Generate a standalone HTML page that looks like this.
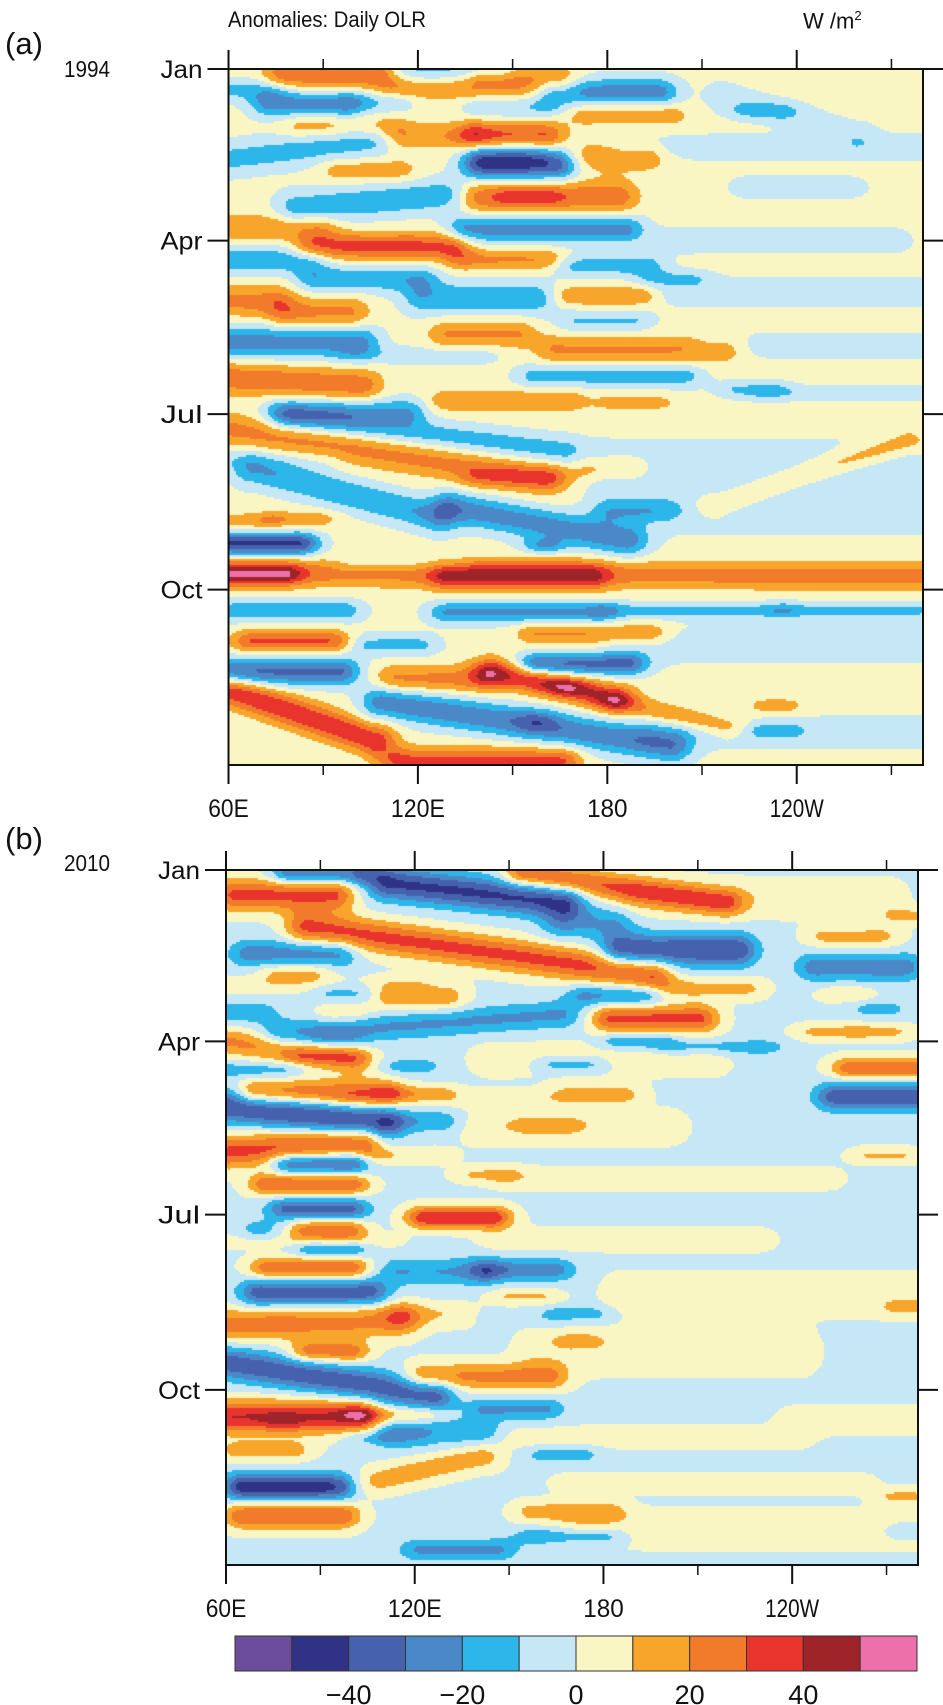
<!DOCTYPE html>
<html><head><meta charset="utf-8">
<style>
html,body{margin:0;padding:0;background:#fff;}
body{width:943px;height:1705px;position:relative;overflow:hidden;font-family:"Liberation Sans",sans-serif;color:#111;}
.t{position:absolute;white-space:nowrap;line-height:1;}
canvas{position:absolute;}
svg{position:absolute;left:0;top:0;}
</style></head>
<body>
<div class="t" style="left:228px;top:9px;font-size:22px;transform:scaleX(0.92);transform-origin:left;">Anomalies: Daily OLR</div>
<div class="t" style="left:803px;top:9px;font-size:22px;">W /m<sup style="font-size:13px">2</sup></div>
<div class="t" style="left:5px;top:28px;font-size:31px;">(a)</div>
<div class="t" style="left:64px;top:58px;font-size:23px;transform:scaleX(0.9);transform-origin:left;">1994</div>
<div class="t" style="left:5px;top:823px;font-size:31px;">(b)</div>
<div class="t" style="left:64px;top:852px;font-size:23px;transform:scaleX(0.9);transform-origin:left;">2010</div>
<canvas id="cA" width="695" height="696" style="left:228px;top:69px;"></canvas>
<canvas id="cB" width="692" height="695" style="left:226px;top:870px;"></canvas>
<svg id="ov" width="943" height="1705"></svg>
<script>
// ---- data ----
const levels = [-50,-40,-30,-20,-10,0,10,20,30,40,50];
const levelColors = ["#6b4c9d","#2f3285","#4662ae","#4b88c8","#2db6e9","#c6e7f6","#faf6c4","#f8a52b","#f17b2b","#e8342c","#9e2429","#ee70aa"];
const cbarLabels = [-40,-20,0,20,40];
const lonTickLabels = ["60E","120E","180","120W"];
const lonMajor = [60,120,180,240];
const lonMinor = [90,150,210,270];
const monthLabels = ["Jan","Apr","Jul","Oct"];
const monthDays = [0,90,181,273];
// [lon0, lon1, day0, day1, amplitude, halfWidthDays]
const eventsA = [
[78,108,3,3,25,6],[116,144,0,0,-15,4],[141,164,7,7,22,6],[164,196,12,12,-28,5],[61,73,11,11,-15,4],
[115,129,11,11,14,4],[74,96,18,18,-28,5],[104,112,17,17,-14,4],[141,160,20,20,-14,4],[174,199,24,24,14,4],
[225,234,22,22,-13,3],[84,92,30,30,13,4],[106,110,30,30,12,4],[116,135,35,35,15,5],[140,160,35,35,30,5],
[61,105,47,38,-17,6],[141,164,49,49,-50,6],[168,192,46,46,18,5],[96,113,53,53,14,4],[82,130,73,66,-20,6],
[139,183,67,67,24,6],[150,160,67,67,10,4],[136,185,84,84,-28,5],[61,88,83,83,16,5],[88,130,93,93,30,5],
[61,85,100,100,-20,5],[136,161,100,100,18,4],[169,192,103,103,-18,4],[88,120,110,110,-20,5],[195,206,110,110,-12,3],
[61,74,122,122,20,6],[80,98,128,128,20,6],[122,158,120,120,-20,6],[168,190,119,119,15,4],[171,188,132,132,-14,4],
[61,101,143,143,-28,6],[130,151,139,139,18,5],[164,217,147,147,18,5],[158,204,161,161,-18,4],[61,102,162,166,24,6],
[221,232,168,168,-13,3],[130,167,174,174,16,4],[78,116,180,180,-24,5],[182,195,175,175,12,3],
[81,166,183,200,-18,5],[61,160,189,215,20,6],[140,162,214,214,14,4],[68,126,210,235,-22,6],[131,186,230,247,-28,6],
[160,160,250,250,-20,3],[176,186,210,210,13,4],[61,71,237,237,13,3],[77,88,236,236,13,3],[183,197,232,232,-16,4],
[61,82,249,249,-45,4],[60,280,264,266,22,5],[130,174,266,266,24,5],[61,77,265,265,30,4],
[63,96,284,284,-20,4],[130,176,285,285,-25,4],[183,232,284,284,-16,3],[239,277,284,284,-16,3],
[68,92,300,300,28,4],[158,193,296,296,18,4],[105,120,302,302,-16,4],[158,186,312,312,-35,4],[61,95,316,316,-35,5],
[113,141,320,320,20,5],[144,182,316,330,35,5],[167,167,324,324,16,3],[109,200,332,355,-30,6],[158,158,342,342,-15,4],
[61,106,326,352,35,6],[115,165,363,363,30,5],[183,218,332,345,16,4],[230,236,347,347,-12,3],[231,236,334,334,12,3]
];
const streaksA = [
[217,259,14,35,-8,8],[186,279,41,41,-8,7],[225,256,62,62,-8,6],[200,270,90,90,-8,7],[200,279,117,117,-8,8],
[214,279,145,145,-8,7],[230,279,170,170,-8,4],[180,280,219,219,-9,24],[215,275,228,195,14,6],
[185,280,302,302,-8,10],[195,280,348,348,-8,9],[100,130,260,260,-8,5],[60,90,205,205,-6,6],[100,140,150,150,-8,5]
];
const eventsB = [
[81,102,2,2,-30,4],[63,94,13,13,35,6],[155,218,2,17,32,5],[112,167,7,17,-40,6],[167,183,28,28,-18,6],
[186,222,42,42,-38,6],[86,195,30,55,35,6],[68,95,44,44,-24,5],[77,87,54,54,15,4],[113,130,67,67,18,5],
[94,101,64,64,-13,4],[175,193,66,66,-22,4],[203,225,62,62,15,4],[251,268,35,35,15,4],[248,275,51,51,-25,5],
[255,259,65,65,12,3],[61,70,75,75,-15,4],[95,100,75,75,12,4],[78,166,86,76,-20,5],[92,98,88,88,-10,3],
[183,210,78,78,35,5],[185,196,90,90,-18,3],[203,231,93,93,-14,3],[265,270,73,73,-12,3],[247,256,85,85,14,3],
[265,272,85,85,14,3],[60,100,90,100,24,5],[85,99,98,98,12,3],[61,78,105,105,-14,3],[164,175,102,102,-16,3],
[259,279,104,104,30,4],[116,122,103,103,-13,3],[70,109,117,117,30,5],[115,127,117,117,14,3],[170,186,118,118,16,4],
[254,280,119,119,-35,5],[61,109,124,133,-40,6],[117,128,132,132,-16,4],[157,167,134,134,14,3],[61,103,148,143,35,6],
[81,99,154,154,-35,4],[74,99,165,165,32,4],[80,99,178,178,-32,4],[110,126,150,150,11,3],[139,148,160,160,13,3],
[265,274,150,150,13,3],[123,144,182,182,20,4],[275,280,24,24,14,3],
[84,98,189,189,30,4],[71,78,189,189,-13,4],[125,144,183,183,22,4],[88,99,199,199,-20,3],[74,99,209,209,30,4],
[115,141,211,211,-18,5],[144,164,210,210,-24,4],[71,105,222,222,-35,5],[150,160,224,224,13,3],[61,115,239,236,28,6],
[116,133,234,234,15,4],[167,176,233,233,-13,3],[170,174,247,247,12,3],[87,99,253,253,28,4],[61,126,259,276,-35,6],
[123,162,266,266,25,5],[143,161,283,283,-20,4],[61,102,287,287,42,6],[78,78,290,290,10,3],[102,124,286,286,16,3],
[115,141,296,296,-22,5],[104,108,298,298,-13,3],[64,81,305,305,16,4],[102,141,323,308,18,5],[162,172,307,307,-14,3],
[66,96,324,324,-45,5],[66,96,339,339,32,5],[158,181,337,337,17,4],[158,181,350,350,-16,3],[122,146,357,357,-20,4],
[276,280,347,347,-14,3],[273,280,329,329,14,3],[275,280,230,230,12,3]
];
const streaksB = [
[190,270,15,15,8,10],[144,214,99,99,8,9],[140,200,135,135,8,9],[150,250,162,162,7,6],[147,228,194,194,8,6],
[186,279,223,223,8,11],[158,242,253,253,8,12],[242,280,289,289,8,7],[130,240,298,298,7,6],[170,260,322,322,8,5],
[172,279,346,346,8,10],[90,160,235,235,-4,4],[60,120,60,60,7,5],[100,160,120,120,7,5],[60,110,195,195,7,4]
];
// ---- rendering ----
const WIDTH_SCALE = 1.45, LON_TAPER = 7;
function colorIndex(v){let i=0;while(i<levels.length&&v>=levels[i])i++;return i;}
function hex(c){return [parseInt(c.substr(1,2),16),parseInt(c.substr(3,2),16),parseInt(c.substr(5,2),16)];}
const rgb = levelColors.map(hex);
function drawField(id, events, streaks, base){
  const cv=document.getElementById(id), ctx=cv.getContext('2d');
  const W=cv.width,H=cv.height, img=ctx.createImageData(W,H);
  const xLon = x=>60+x/(W)*220, yDay = y=>y/(H)*365;
  const all = events.map(e=>[e,WIDTH_SCALE]).concat(streaks.map(e=>[e,1]));
  for(let y=0;y<H;y+=2){
    const d=yDay(y+1);
    for(let x=0;x<W;x+=2){
      const lon=xLon(x+1); let v=base;
      for(let k=0;k<all.length;k++){
        const e=all[k][0], s=all[k][1]; const l0=e[0],l1=e[1];
        let t = l1>l0 ? (lon-l0)/(l1-l0) : 0; t=Math.max(0,Math.min(1,t));
        const dc = e[2]+(e[3]-e[2])*t;
        const dd=(d-dc)/(e[5]*s); if(dd>3||dd<-3)continue;
        let ext=0; if(lon<l0)ext=l0-lon; else if(lon>l1)ext=lon-l1;
        const ex=ext/LON_TAPER; if(ex>3)continue;
        v+=e[4]*Math.exp(-dd*dd-ex*ex);
      }
      const c=rgb[colorIndex(v)];
      for(let dy=0;dy<2&&y+dy<H;dy++)for(let dx=0;dx<2&&x+dx<W;dx++){
        const p=((y+dy)*W+x+dx)*4; img.data[p]=c[0];img.data[p+1]=c[1];img.data[p+2]=c[2];img.data[p+3]=255;}
    }
  }
  ctx.putImageData(img,0,0);
}
drawField('cA',eventsA,streaksA,3);
drawField('cB',eventsB,streaksB,-2);

const NS='http://www.w3.org/2000/svg', svg=document.getElementById('ov');
function el(tag,attrs,parent){const e=document.createElementNS(NS,tag);for(const k in attrs)e.setAttribute(k,attrs[k]);(parent||svg).appendChild(e);return e;}
function panel(name,x0,x1,y0,y1){
  const g=el('g',{});
  
  
  const lonX = lon=>x0+(lon-60)/220*(x1-x0);
  const dayY = day=>y0+day/365*(y1-y0);
  el('rect',{x:x0,y:y0,width:x1-x0,height:y1-y0,fill:'none',stroke:'#111','stroke-width':2},g);
  lonMajor.forEach((lon,i)=>{
    const x=lonX(lon);
    el('line',{x1:x,x2:x,y1:y0-19,y2:y0,stroke:'#111','stroke-width':2},g);
    el('line',{x1:x,x2:x,y1:y1,y2:y1+19,stroke:'#111','stroke-width':2},g);
    const t=el('text',{x:x,y:y1+52,'text-anchor':'middle','font-size':25,'font-family':'Liberation Sans, sans-serif',fill:'#111',textLength:lonTickLabels[i].length*13.5,lengthAdjust:'spacingAndGlyphs'},g);
    t.textContent=lonTickLabels[i];
    
    
  });
  lonMinor.forEach(lon=>{const x=lonX(lon);
    el('line',{x1:x,x2:x,y1:y0-10,y2:y0,stroke:'#111','stroke-width':1.5},g);
    el('line',{x1:x,x2:x,y1:y1,y2:y1+10,stroke:'#111','stroke-width':1.5},g);});
  monthDays.forEach((d,i)=>{
    const y=dayY(d);
    el('line',{x1:x0-21,x2:x0,y1:y,y2:y,stroke:'#111','stroke-width':2},g);
    el('line',{x1:x1,x2:x1+20,y1:y,y2:y,stroke:'#111','stroke-width':2},g);
    const t=el('text',{x:x0-26,y:y+9,'text-anchor':'end','font-size':25,'font-family':'Liberation Sans, sans-serif',fill:'#111',textLength:monthLabels[i].length*14,lengthAdjust:'spacingAndGlyphs'},g);
    t.textContent=monthLabels[i];
    
    
  });
}
panel('panel-a',228.5,923,69,765);
panel('panel-b',226,918,870,1565);
// colorbar
const cb=el('g',{});


const cbx0=235,cbx1=917,cby=1636,cbh=35,bw=(cbx1-cbx0)/levelColors.length;
levelColors.forEach((c,i)=>{
  const r=el('rect',{x:cbx0+i*bw,y:cby,width:bw,height:cbh,fill:c,stroke:'#333','stroke-width':1},cb);
  
  
});
cbarLabels.forEach(v=>{
  const i=levels.indexOf(v)+1;
  const t=el('text',{x:cbx0+i*bw,y:1704,'text-anchor':'middle','font-size':27,'font-family':'Liberation Sans, sans-serif',fill:'#111'},cb);
  t.textContent=(v<0?'\u2212':'')+Math.abs(v);
  
  
});
</script>
</body></html>
